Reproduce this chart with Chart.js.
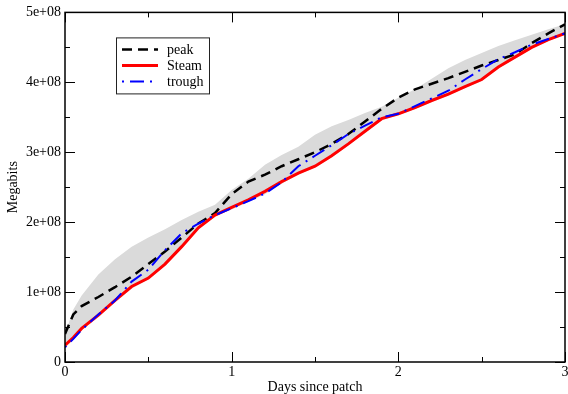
<!DOCTYPE html>
<html>
<head>
<meta charset="utf-8">
<title>Megabits since patch</title>
<script src="https://cdn.jsdelivr.net/npm/chart.js@4.4.1/dist/chart.umd.min.js"></script>
<style>
    html, body { margin: 0; padding: 0; background: #fff; }
    canvas { display: block; }
</style>
</head>
<body>
<canvas id="traffic" width="568" height="394"></canvas>
<script>
// days after the patch went out
const days = [0, 0.05, 0.1, 0.2, 0.3, 0.4, 0.5, 0.6, 0.7, 0.8, 0.9, 1.0,
    1.1, 1.2, 1.3, 1.4, 1.5, 1.6, 1.7, 1.8, 1.9, 2.0,
    2.1, 2.2, 2.3, 2.4, 2.5, 2.6, 2.7, 2.8, 2.9, 3.0];

// cumulative megabits
const peak = [0.40e8, 0.68e8, 0.80e8, 0.93e8, 1.07e8, 1.22e8, 1.40e8, 1.58e8, 1.78e8, 1.98e8, 2.13e8, 2.40e8,
    2.58e8, 2.68e8, 2.80e8, 2.90e8, 3.00e8, 3.12e8, 3.26e8, 3.44e8, 3.62e8, 3.78e8,
    3.90e8, 3.98e8, 4.06e8, 4.15e8, 4.24e8, 4.32e8, 4.40e8, 4.56e8, 4.70e8, 4.83e8];
const steam = [0.24e8, 0.35e8, 0.48e8, 0.67e8, 0.88e8, 1.08e8, 1.20e8, 1.40e8, 1.65e8, 1.92e8, 2.10e8, 2.21e8,
    2.32e8, 2.44e8, 2.58e8, 2.70e8, 2.80e8, 2.95e8, 3.12e8, 3.30e8, 3.48e8, 3.55e8,
    3.64e8, 3.74e8, 3.83e8, 3.94e8, 4.04e8, 4.22e8, 4.36e8, 4.50e8, 4.61e8, 4.70e8];
const trough = [0.21e8, 0.33e8, 0.46e8, 0.68e8, 0.88e8, 1.15e8, 1.32e8, 1.60e8, 1.84e8, 1.98e8, 2.10e8, 2.20e8,
    2.30e8, 2.41e8, 2.57e8, 2.80e8, 2.95e8, 3.10e8, 3.26e8, 3.38e8, 3.50e8, 3.55e8,
    3.66e8, 3.77e8, 3.88e8, 4.04e8, 4.19e8, 4.33e8, 4.43e8, 4.54e8, 4.62e8, 4.70e8];

// grey envelope
const bandLow = [0.20e8, 0.32e8, 0.45e8, 0.64e8, 0.85e8, 1.05e8, 1.18e8, 1.38e8, 1.62e8, 1.90e8, 2.08e8, 2.18e8,
    2.29e8, 2.40e8, 2.55e8, 2.68e8, 2.78e8, 2.93e8, 3.10e8, 3.28e8, 3.46e8, 3.53e8,
    3.62e8, 3.72e8, 3.81e8, 3.92e8, 4.02e8, 4.20e8, 4.34e8, 4.48e8, 4.59e8, 4.68e8];
const bandHigh = [0.40e8, 0.75e8, 0.95e8, 1.25e8, 1.47e8, 1.65e8, 1.78e8, 1.90e8, 2.03e8, 2.15e8, 2.25e8, 2.46e8,
    2.62e8, 2.82e8, 2.96e8, 3.08e8, 3.25e8, 3.37e8, 3.46e8, 3.56e8, 3.65e8, 3.78e8,
    3.90e8, 4.05e8, 4.20e8, 4.32e8, 4.42e8, 4.52e8, 4.60e8, 4.68e8, 4.76e8, 4.83e8];

const xTickLabels = ['0', '1', '2', '3'];
const yTickLabels = ['0', '1e+08', '2e+08', '3e+08', '4e+08', '5e+08'];

const serif = "'Liberation Serif', 'Times New Roman', serif";

function pts(arr) {
    return days.map((d, i) => ({ x: d, y: arr[i] }));
}

// frame round the plot with inward major/minor ticks on all four sides
const frameTicks = {
    id: 'frameTicks',
    afterDatasetsDraw(chart) {
        const { ctx, chartArea: a, scales: { x, y } } = chart;
        ctx.save();
        ctx.strokeStyle = '#000';
        ctx.lineWidth = 1;
        ctx.beginPath();
        for (let i = 0; i <= 6; i++) {
            const px = Math.round(x.getPixelForValue(i * 0.5)) + 0.5;
            const len = i % 2 === 0 ? 10 : 5;
            ctx.moveTo(px, a.bottom); ctx.lineTo(px, a.bottom - len);
            ctx.moveTo(px, a.top); ctx.lineTo(px, a.top + len);
        }
        for (let i = 0; i <= 10; i++) {
            const py = Math.round(y.getPixelForValue(i * 0.5e8)) + 0.5;
            const len = i % 2 === 0 ? 10 : 5;
            ctx.moveTo(a.left, py); ctx.lineTo(a.left + len, py);
            ctx.moveTo(a.right, py); ctx.lineTo(a.right - len, py);
        }
        ctx.stroke();
        ctx.lineWidth = 1.5;
        ctx.strokeRect(a.left, a.top, a.right - a.left, a.bottom - a.top);
        ctx.restore();
    }
};

// boxed legend sitting inside the plot
const boxLegend = {
    id: 'boxLegend',
    afterDraw(chart, args, opts) {
        const { ctx, chartArea: a } = chart;
        const items = chart.data.datasets.filter(ds => ds.label);
        const left = a.left + opts.x, top = a.top + opts.y;
        ctx.save();
        ctx.fillStyle = '#fff';
        ctx.fillRect(left, top, opts.width, opts.height);
        ctx.strokeStyle = '#222';
        ctx.lineWidth = 1;
        ctx.strokeRect(left + 0.5, top + 0.5, opts.width, opts.height);
        ctx.font = '14px ' + serif;
        ctx.textBaseline = 'middle';
        items.forEach((ds, i) => {
            const cy = top + 12 + i * 16;
            ctx.strokeStyle = ds.borderColor;
            ctx.lineWidth = ds.borderWidth;
            ctx.setLineDash(ds.borderDash || []);
            ctx.beginPath();
            ctx.moveTo(left + 6, cy);
            ctx.lineTo(left + 42, cy);
            ctx.stroke();
            ctx.setLineDash([]);
            ctx.fillStyle = '#000';
            ctx.fillText(ds.label, left + 51, cy + 0.5);
        });
        ctx.restore();
    }
};

new Chart(document.getElementById('traffic'), {
    type: 'line',
    data: {
        datasets: [{
            data: pts(bandLow),
            borderWidth: 0,
            pointRadius: 0,
            fill: false,
            order: 5
        }, {
            data: pts(bandHigh),
            borderWidth: 0,
            pointRadius: 0,
            backgroundColor: '#dadada',
            fill: '-1',
            order: 4
        }, {
            label: 'peak',
            data: pts(peak),
            borderColor: '#000',
            borderWidth: 2.5,
            borderDash: [10, 6],
            pointRadius: 0,
            fill: false,
            order: 3
        }, {
            label: 'Steam',
            data: pts(steam),
            borderColor: '#ff0000',
            borderWidth: 3,
            pointRadius: 0,
            fill: false,
            order: 2
        }, {
            label: 'trough',
            data: pts(trough),
            borderColor: '#0000ff',
            borderWidth: 2,
            borderDash: [2, 6, 14, 6],
            pointRadius: 0,
            fill: false,
            order: 1
        }]
    },
    options: {
        responsive: false,
        animation: false,
        layout: { padding: { top: 12, right: 3, bottom: 0, left: 0 } },
        scales: {
            x: {
                type: 'linear',
                min: 0,
                max: 3,
                grid: { display: false, drawTicks: false },
                border: { display: false },
                ticks: {
                    stepSize: 1,
                    padding: 2,
                    color: '#000',
                    font: { family: serif, size: 14 },
                    callback: (v, i) => xTickLabels[i]
                },
                title: {
                    display: true,
                    text: 'Days since patch',
                    color: '#000',
                    font: { family: serif, size: 14, lineHeight: 1 },
                    padding: { top: 0, bottom: 0 }
                },
                afterFit(s) {
                    s.height = 32;
                    s.paddingLeft = 0;
                    s.paddingRight = 0;
                }
            },
            y: {
                min: 0,
                max: 5e8,
                grid: { display: false, drawTicks: false },
                border: { display: false },
                ticks: {
                    stepSize: 1e8,
                    padding: 4,
                    color: '#000',
                    font: { family: serif, size: 14 },
                    callback: (v, i) => yTickLabels[i]
                },
                title: {
                    display: true,
                    text: 'Megabits',
                    color: '#000',
                    font: { family: serif, size: 14 },
                    padding: { top: 5, bottom: 0 }
                },
                afterFit(s) {
                    s.width = 65;
                }
            }
        },
        plugins: {
            legend: { display: false },
            tooltip: { enabled: false },
            boxLegend: { x: 51, y: 25, width: 93, height: 56 }
        }
    },
    plugins: [frameTicks, boxLegend]
});
</script>
</body>
</html>
